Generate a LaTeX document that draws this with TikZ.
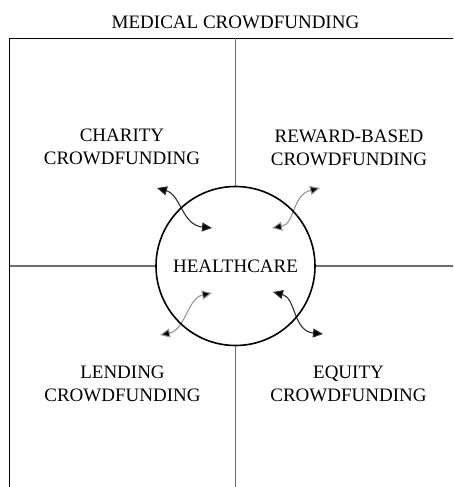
\documentclass[tikz,border=0pt]{standalone}
\usepackage{fontspec}
\setmainfont{Liberation Serif}
\usetikzlibrary{arrows.meta}
\definecolor{divgrey}{RGB}{110,110,110}
\definecolor{darklink}{RGB}{45,45,45}
\definecolor{lightlink}{RGB}{150,150,150}
\begin{document}
\begin{tikzpicture}[x=1pt,y=-1pt,
  lbl/.style={font=\fontsize{19}{22.8}\selectfont, align=center, inner sep=0pt},
  frameline/.style={draw=black, line width=1.8pt},
  divider/.style={draw=divgrey, line width=1.2pt},
  twoway/.style={{Triangle[length=10pt,width=9pt,fill=black]}-{Triangle[length=10pt,width=9pt,fill=black]}, line width=1.1pt},
  hub/.style={circle, draw=black, line width=1.6pt, minimum size=159pt, inner sep=0pt,
              font=\fontsize{19}{22.8}\selectfont}
]
\useasboundingbox (0,0) rectangle (453,487);
\clip (0,0) rectangle (453,487);

% outer frame (runs off the page at right and bottom)
\draw[frameline] (9.5,500) -- (9.5,38.5) -- (470,38.5);

% title
\node[lbl] (title) at (235.5,22.5) {MEDICAL CROWDFUNDING};

% quadrant labels
\node[lbl] (charity) at (122,147) {CHARITY\\CROWDFUNDING};
\node[lbl] (reward)  at (349,147.5) {REWARD-BASED\\CROWDFUNDING};
\node[lbl] (lending) at (122.5,383.5) {LENDING\\CROWDFUNDING};
\node[lbl] (equity)  at (348.5,383.5) {EQUITY\\CROWDFUNDING};

% two-way links around the hub
\coordinate (ulA) at (157,188);  \coordinate (ulB) at (212,228);
\coordinate (urA) at (272,228);  \coordinate (urB) at (320,188);
\coordinate (llA) at (212,293);  \coordinate (llB) at (160,335);
\coordinate (lrA) at (273,292);  \coordinate (lrB) at (323,334);
\draw[twoway, draw=darklink]
  (ulA) .. controls (181,195) and (182,225) .. (ulB);
\draw[twoway, draw=lightlink]
  (urA) .. controls (295,224) and (292,195) .. (urB);
\draw[twoway, draw=lightlink]
  (llA) .. controls (188,298) and (185,330) .. (llB);
\draw[twoway, draw=darklink]
  (lrA) .. controls (296,298) and (293,331) .. (lrB);

% central hub
\node[hub] (hc) at (235.5,266) {HEALTHCARE};

% quadrant dividers meeting the hub
\coordinate (topend) at (235.5,38.5);
\coordinate (botend) at (235.5,500);
\coordinate (leftend) at (9.5,266);
\coordinate (rightend) at (470,266);
\draw[divider] (topend) -- (hc.north);
\draw[divider] (hc.south) -- (botend);
\draw[divider] (leftend) -- (hc.west);
\draw[divider] (hc.east) -- (rightend);
\end{tikzpicture}
\end{document}
